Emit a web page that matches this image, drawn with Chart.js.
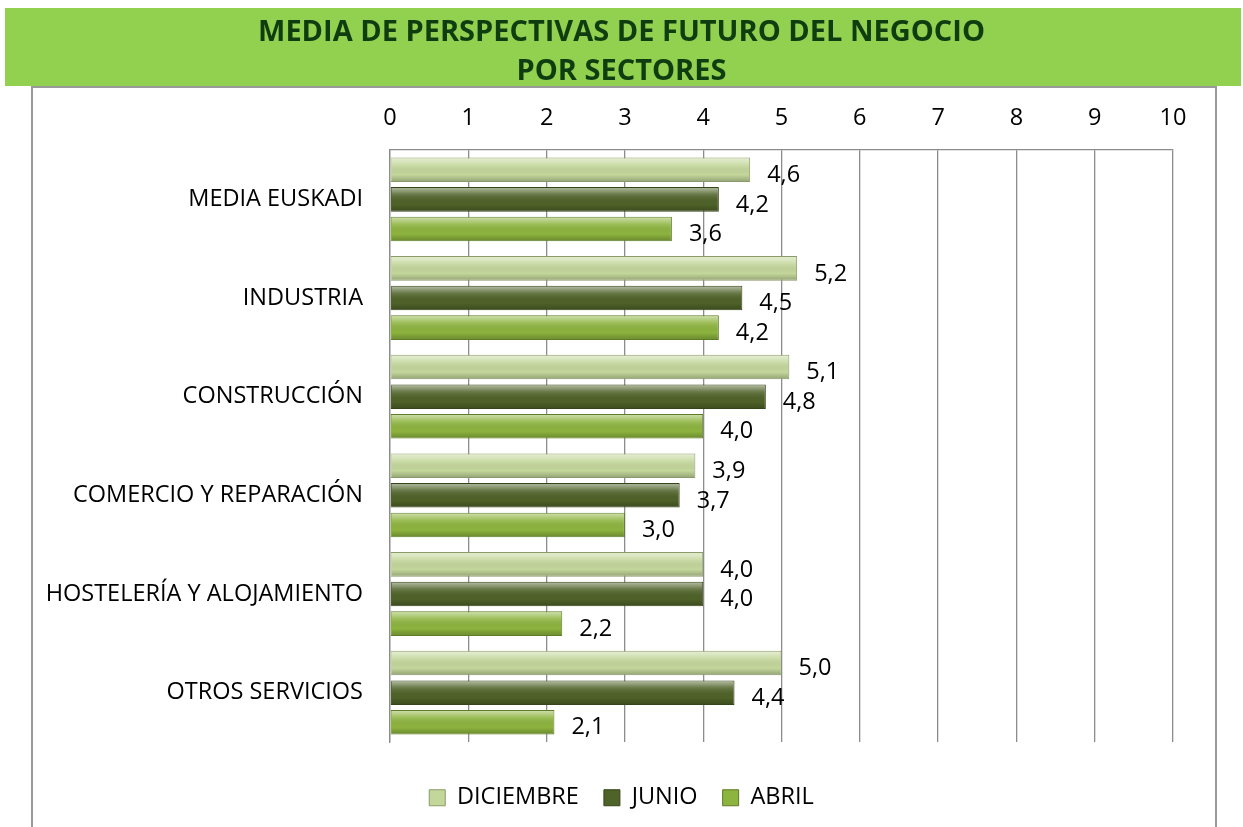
<!DOCTYPE html>
<html>
<head>
<meta charset="utf-8">
<script src="https://cdn.jsdelivr.net/npm/chart.js@4/dist/chart.umd.min.js"></script>
<style>
  body { margin: 0; background: #fff; }
</style>
</head>
<body>
<canvas id="myChart" width="1243" height="827"></canvas>
<script>
    // data
    var sectores = ['MEDIA EUSKADI', 'INDUSTRIA', 'CONSTRUCCIÓN', 'COMERCIO Y REPARACIÓN', 'HOSTELERÍA Y ALOJAMIENTO', 'OTROS SERVICIOS']
    var diciembre = [4.6, 5.2, 5.1, 3.9, 4.0, 5.0]
    var junio = [4.2, 4.5, 4.8, 3.7, 4.0, 4.4]
    var abril = [3.6, 4.2, 4.0, 3.0, 2.2, 2.1]
    var xTicks = [0, 1, 2, 3, 4, 5, 6, 7, 8, 9, 10]
    var titulo = ['MEDIA DE PERSPECTIVAS DE FUTURO DEL NEGOCIO', 'POR SECTORES']

    var fontFamily = '"Open Sans", "DejaVu Sans", sans-serif'
    var gridColor = '#8c8c8c'
    var textSize = 23.5

    // green header band + grey frame behind everything
    var fondo = {
        id: 'fondo',
        beforeDraw: function (chart) {
            var ctx = chart.ctx
            ctx.save()
            ctx.fillStyle = '#ffffff'
            ctx.fillRect(0, 0, chart.width, chart.height)
            ctx.fillStyle = '#92d050'
            ctx.fillRect(5, 8, 1236, 78)
            ctx.strokeStyle = '#999999'
            ctx.lineWidth = 2
            ctx.beginPath()
            ctx.moveTo(32, chart.height + 2)
            ctx.lineTo(32, 87)
            ctx.lineTo(1216, 87)
            ctx.lineTo(1216, chart.height + 2)
            ctx.stroke()
            ctx.restore()
        }
    }

    // bevel shading on the bars and the value labels
    var etiquetas = {
        id: 'etiquetas',
        afterDatasetsDraw: function (chart) {
            var ctx = chart.ctx
            ctx.save()
            chart.data.datasets.forEach(function (ds, i) {
                var meta = chart.getDatasetMeta(i)
                meta.data.forEach(function (bar, j) {
                    var top = bar.y - bar.height / 2
                    var left = Math.min(bar.base, bar.x)
                    var w = Math.abs(bar.x - bar.base)
                    var g = ctx.createLinearGradient(0, top, 0, top + bar.height)
                    g.addColorStop(0, 'rgba(255,255,255,0.6)')
                    g.addColorStop(0.3, 'rgba(255,255,255,0.15)')
                    g.addColorStop(0.7, 'rgba(0,0,0,0)')
                    g.addColorStop(1, 'rgba(0,0,0,0.25)')
                    ctx.fillStyle = g
                    ctx.fillRect(left + 1, top + 1, w - 2, bar.height - 2)

                    ctx.fillStyle = '#000000'
                    ctx.font = textSize + 'px ' + fontFamily
                    ctx.textAlign = 'left'
                    ctx.textBaseline = 'middle'
                    var txt = ds.data[j].toFixed(1).replace('.', ',')
                    ctx.fillText(txt, bar.x + 17, bar.y + 5.5)
                })
            })
            ctx.restore()
        }
    }

    var ctx = document.getElementById('myChart').getContext('2d')
    var chart = new Chart(ctx, {
        type: 'bar',
        data: {
            labels: sectores,
            datasets: [{
                label: 'DICIEMBRE',
                data: diciembre,
                backgroundColor: '#c4d79b',
                borderColor: '#8a9a6a',
                borderWidth: 1
            },
            {
                label: 'JUNIO',
                data: junio,
                backgroundColor: '#4f6228',
                borderColor: '#36441a',
                borderWidth: 1
            },
            {
                label: 'ABRIL',
                data: abril,
                backgroundColor: '#8db43e',
                borderColor: '#5e7a26',
                borderWidth: 1
            }
            ]
        },
        options: {
            indexAxis: 'y',
            responsive: false,
            animation: false,
            categoryPercentage: 0.9,
            barPercentage: 0.83,
            layout: {
                padding: { top: 0, left: 0, right: 0, bottom: 7.5 }
            },
            scales: {
                x: {
                    position: 'top',
                    min: 0,
                    max: 10,
                    afterBuildTicks: function (scale) {
                        scale.ticks = xTicks.map(function (v) { return { value: v } })
                    },
                    afterFit: function (scale) {
                        scale.height = 59
                    },
                    grid: {
                        color: gridColor,
                        lineWidth: 1.3,
                        drawTicks: false
                    },
                    border: { color: gridColor, width: 1.3 },
                    ticks: {
                        padding: 18,
                        color: '#000000',
                        font: { family: fontFamily, size: textSize }
                    }
                },
                y: {
                    afterFit: function (scale) {
                        scale.width = 390
                    },
                    grid: { display: false, drawTicks: false },
                    border: { color: gridColor, width: 1.3 },
                    ticks: {
                        padding: 27,
                        color: '#000000',
                        font: { family: fontFamily, size: textSize }
                    }
                },
                margen: {
                    type: 'linear',
                    position: 'right',
                    afterFit: function (scale) {
                        scale.width = 70
                    },
                    grid: { display: false, drawTicks: false },
                    border: { display: false },
                    ticks: { display: false }
                }
            },
            plugins: {
                title: {
                    display: true,
                    text: titulo,
                    color: '#0f3d10',
                    font: { family: fontFamily, size: 29, weight: 'bold', lineHeight: 1.345 },
                    padding: { top: 13, bottom: 0 }
                },
                legend: {
                    position: 'bottom',
                    title: {
                        display: true,
                        text: ' ',
                        font: { size: 10 },
                        padding: 3.5
                    },
                    labels: {
                        color: '#000000',
                        boxWidth: 16,
                        boxHeight: 16,
                        padding: 25,
                        font: { family: fontFamily, size: textSize }
                    }
                },
                tooltip: { enabled: false }
            }
        },
        plugins: [fondo, etiquetas]
    });
</script>
</body>
</html>
